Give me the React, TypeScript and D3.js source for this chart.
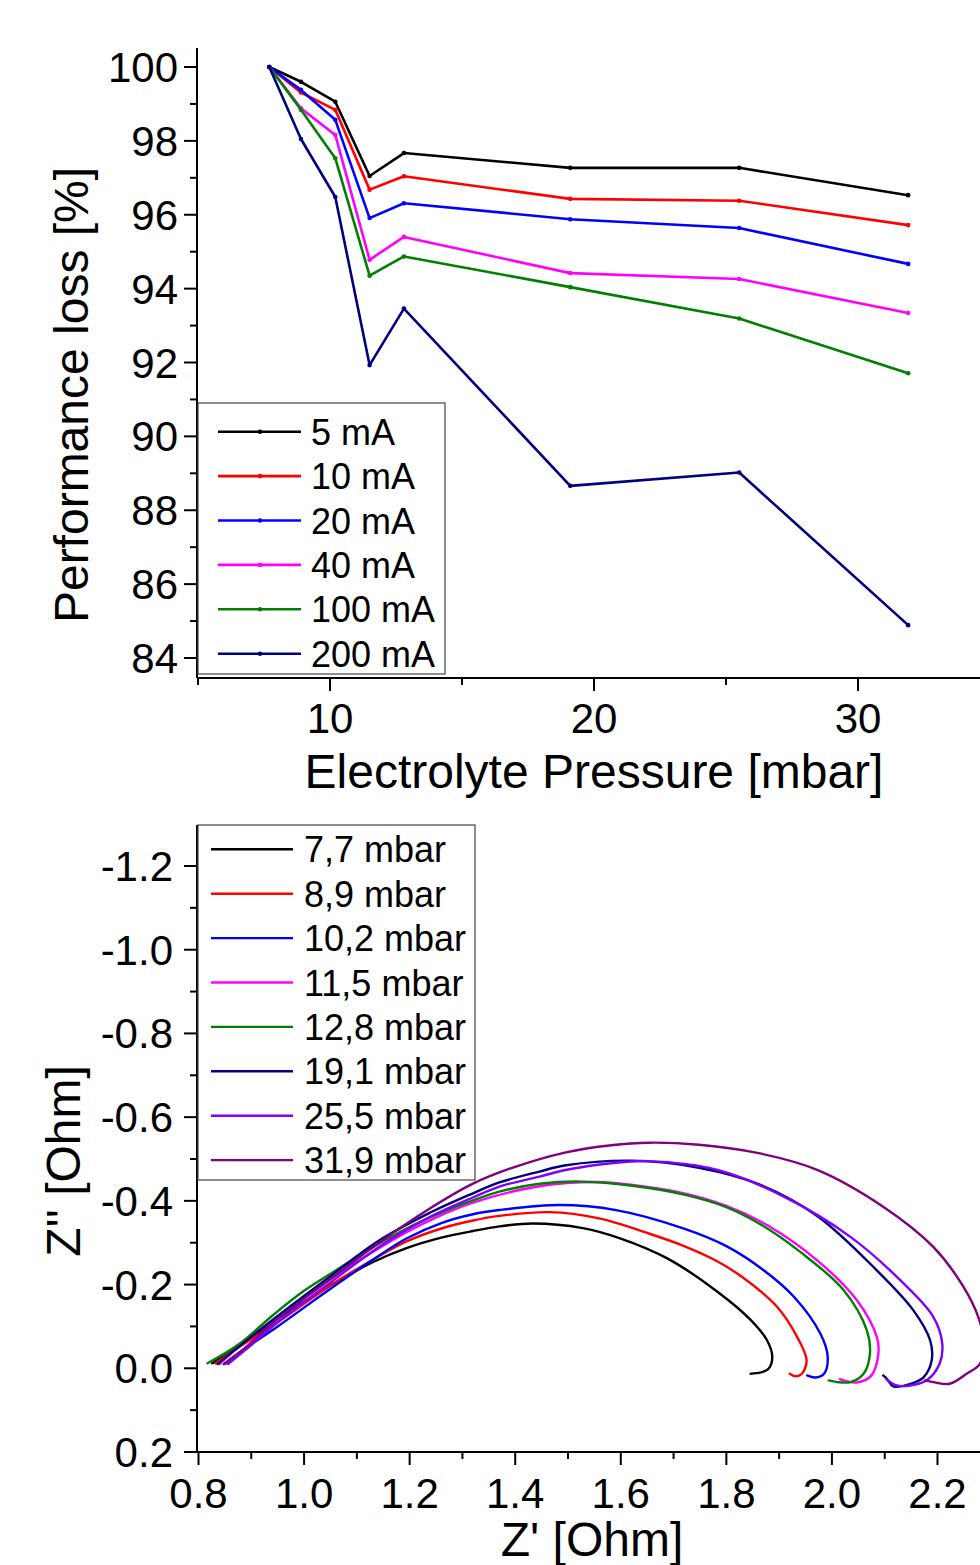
import React from "react";
import * as d3 from "d3";

// ---------- Top chart data ----------
const pressures = [7.7, 8.9, 10.2, 11.5, 12.8, 19.1, 25.5, 31.9];
const currentLabels = ["5 mA", "10 mA", "20 mA", "40 mA", "100 mA", "200 mA"];
const currentColors = ["#000000", "#ff0000", "#0000ff", "#ff00ff", "#008000", "#000080"];
const perf5 = [100, 99.6, 99.06, 97.05, 97.67, 97.27, 97.27, 96.53];
const perf10 = [100, 99.31, 98.84, 96.68, 97.04, 96.43, 96.38, 95.72];
const perf20 = [100, 99.38, 98.57, 95.91, 96.31, 95.88, 95.64, 94.67];
const perf40 = [100, 98.88, 98.16, 94.78, 95.4, 94.42, 94.26, 93.34];
const perf100 = [100, 98.84, 97.53, 94.35, 94.87, 94.04, 93.19, 91.71];
const perf200 = [100, 98.05, 96.48, 91.93, 93.46, 88.66, 89.02, 84.89];
const perfSeries = [perf5, perf10, perf20, perf40, perf100, perf200];
const xTicksTop = [10, 20, 30];
const xMinorTop = [5, 15, 25, 35];
const yTicksTop = [84, 86, 88, 90, 92, 94, 96, 98, 100];
const yMinorTop = [85, 87, 89, 91, 93, 95, 97, 99];

// ---------- Bottom chart data (Z', Z'') ----------
const nyqLabels = ["7,7 mbar", "8,9 mbar", "10,2 mbar", "11,5 mbar", "12,8 mbar", "19,1 mbar", "25,5 mbar", "31,9 mbar"];
const nyqColors = ["#000000", "#ff0000", "#0000ff", "#ff00ff", "#008000", "#000080", "#8000ff", "#800080"];
const nyq77: [number, number][] = [
  [0.826, -0.012], [0.86, -0.04], [0.898, -0.071], [0.942, -0.112], [1.005, -0.163], [1.07, -0.213],
  [1.131, -0.254], [1.194, -0.287], [1.26, -0.312], [1.32, -0.328], [1.37, -0.339], [1.433, -0.346],
  [1.528, -0.335], [1.6, -0.31], [1.689, -0.262], [1.783, -0.183], [1.845, -0.117], [1.877, -0.067],
  [1.887, -0.027], [1.88, 0.001], [1.865, 0.01], [1.846, 0.013],
];
const nyq89: [number, number][] = [
  [0.832, -0.012], [0.87, -0.045], [0.95, -0.11], [1.05, -0.198], [1.131, -0.26], [1.194, -0.303],
  [1.26, -0.334], [1.32, -0.353], [1.37, -0.364], [1.465, -0.373], [1.559, -0.358], [1.653, -0.322],
  [1.72, -0.292], [1.779, -0.258], [1.83, -0.218], [1.896, -0.147], [1.934, -0.075], [1.952, -0.019],
  [1.943, 0.013], [1.931, 0.019], [1.92, 0.013],
];
const nyq102: [number, number][] = [
  [0.848, -0.01], [0.88, -0.04], [0.95, -0.1], [1.05, -0.19], [1.131, -0.26], [1.194, -0.31],
  [1.26, -0.347], [1.32, -0.368], [1.37, -0.378], [1.484, -0.39], [1.591, -0.378], [1.717, -0.335],
  [1.8, -0.292], [1.87, -0.235], [1.928, -0.171], [1.978, -0.083], [1.992, -0.027], [1.985, 0.013],
  [1.969, 0.022], [1.953, 0.017],
];
const nyq115: [number, number][] = [
  [0.84, -0.01], [0.875, -0.05], [0.95, -0.123], [1.068, -0.228], [1.194, -0.325], [1.26, -0.366],
  [1.32, -0.396], [1.446, -0.435], [1.557, -0.445], [1.622, -0.438], [1.72, -0.418], [1.8, -0.388],
  [1.88, -0.34], [1.972, -0.258], [2.047, -0.163], [2.085, -0.075], [2.088, -0.036], [2.075, 0.017],
  [2.047, 0.034], [2.015, 0.026],
];
const nyq128: [number, number][] = [
  [0.817, -0.012], [0.877, -0.058], [0.942, -0.128], [1.0, -0.185], [1.068, -0.24], [1.129, -0.288],
  [1.194, -0.334], [1.26, -0.372], [1.32, -0.401], [1.37, -0.422], [1.446, -0.441], [1.528, -0.446],
  [1.622, -0.436], [1.72, -0.415], [1.8, -0.385], [1.87, -0.34], [1.94, -0.278], [2.022, -0.187],
  [2.066, -0.091], [2.072, -0.035], [2.06, 0.013], [2.035, 0.033], [2.01, 0.033], [1.994, 0.029],
];
const nyq191: [number, number][] = [
  [0.836, -0.01], [0.875, -0.05], [0.95, -0.125], [1.05, -0.22], [1.142, -0.305], [1.236, -0.37],
  [1.32, -0.418], [1.37, -0.444], [1.446, -0.47], [1.496, -0.485], [1.622, -0.496], [1.748, -0.479],
  [1.861, -0.44], [1.972, -0.364], [2.085, -0.234], [2.154, -0.139], [2.186, -0.067], [2.189, -0.019],
  [2.174, 0.021], [2.149, 0.037], [2.116, 0.043], [2.104, 0.025], [2.097, 0.017],
];
const nyq255: [number, number][] = [
  [0.856, -0.01], [0.89, -0.045], [0.95, -0.11], [1.05, -0.205], [1.142, -0.29], [1.236, -0.36],
  [1.32, -0.408], [1.37, -0.434], [1.446, -0.458], [1.5, -0.475], [1.582, -0.49], [1.651, -0.495],
  [1.783, -0.474], [1.909, -0.41], [2.035, -0.314], [2.129, -0.211], [2.192, -0.123], [2.209, -0.059],
  [2.204, -0.011], [2.179, 0.029], [2.148, 0.041], [2.123, 0.041], [2.104, 0.027],
];
const nyq319: [number, number][] = [
  [0.85, -0.01], [0.885, -0.045], [0.95, -0.118], [1.05, -0.213], [1.142, -0.3], [1.236, -0.38],
  [1.318, -0.44], [1.383, -0.474], [1.496, -0.516], [1.582, -0.533], [1.653, -0.539], [1.748, -0.534],
  [1.861, -0.514], [1.972, -0.474], [2.097, -0.386], [2.192, -0.29], [2.249, -0.195], [2.278, -0.12],
  [2.288, -0.06], [2.28, -0.01], [2.255, 0.013], [2.223, 0.037], [2.192, 0.033], [2.176, 0.029],
];
const nyqSeries = [nyq77, nyq89, nyq102, nyq115, nyq128, nyq191, nyq255, nyq319];
const xTicksBot = [0.8, 1.0, 1.2, 1.4, 1.6, 1.8, 2.0, 2.2];
const xMinorBot = [0.9, 1.1, 1.3, 1.5, 1.7, 1.9, 2.1, 2.3];
const yTicksBot = [-1.2, -1.0, -0.8, -0.6, -0.4, -0.2, 0.0, 0.2];
const yMinorBot = [-1.1, -0.9, -0.7, -0.5, -0.3, -0.1, 0.1];

const FONT = "'Liberation Sans', Arial, Helvetica, sans-serif";
const W = 980;
const H = 1565;

const fmt1 = (v: number) => d3.format(".1f")(v).replace("\u2212", "-");

export default function App() {
  const x1 = d3.scaleLinear().domain([5, 35]).range([198, 990]);
  const y1 = d3.scaleLinear().domain([84, 100]).range([658, 67]);
  const axX1 = 197;
  const axY1 = 678;
  const axTop1 = 48;

  const x2 = d3.scaleLinear().domain([0.8, 2.2]).range([198.5, 937.5]);
  const y2 = d3.scaleLinear().domain([-1.2, 0.2]).range([866, 1452]);
  const axX2 = 197;
  const axY2 = 1452;
  const axTop2 = 825;

  const lineTop = d3
    .line<number>()
    .x((_, i) => x1(pressures[i]))
    .y((d) => y1(d));

  const lineBot = d3
    .line<[number, number]>()
    .x((d) => x2(d[0]))
    .y((d) => y2(d[1]))
    .curve(d3.curveCatmullRom.alpha(0.5));

  const tickLen = 13;
  const minorLen = 7;
  const tickFont = 42;
  const legFont = 36;
  const titleFont = 48;

  return (
    <svg
      width={W}
      height={H}
      viewBox={`0 0 ${W} ${H}`}
      style={{ position: "absolute", left: 0, top: 0, background: "#fff" }}
      fontFamily={FONT}
    >
      <rect x={0} y={0} width={W} height={H} fill="#fff" />

      {/* ================= TOP CHART ================= */}
      <g>
        {perfSeries.map((s, k) => (
          <g key={k}>
            <path d={lineTop(s) || ""} fill="none" stroke={currentColors[k]} strokeWidth={2.6} strokeLinejoin="round" />
            {s.map((v, i) => (
              <circle key={i} cx={x1(pressures[i])} cy={y1(v)} r={2.3} fill={currentColors[k]} />
            ))}
          </g>
        ))}

        <line x1={axX1} y1={axTop1} x2={axX1} y2={axY1} stroke="#000" strokeWidth={2} />
        <line x1={axX1} y1={axY1} x2={W} y2={axY1} stroke="#000" strokeWidth={2} />
        {yTicksTop.map((t) => (
          <g key={t}>
            <line x1={axX1 - tickLen} x2={axX1} y1={y1(t)} y2={y1(t)} stroke="#000" strokeWidth={2} />
            <text x={178} y={y1(t) + 15} fontSize={tickFont} textAnchor="end">
              {t}
            </text>
          </g>
        ))}
        {yMinorTop.map((t) => (
          <line key={t} x1={axX1 - minorLen} x2={axX1} y1={y1(t)} y2={y1(t)} stroke="#000" strokeWidth={2} />
        ))}
        {xTicksTop.map((t) => (
          <g key={t}>
            <line x1={x1(t)} x2={x1(t)} y1={axY1} y2={axY1 + tickLen} stroke="#000" strokeWidth={2} />
            <text x={x1(t)} y={733} fontSize={tickFont} textAnchor="middle">
              {t}
            </text>
          </g>
        ))}
        {xMinorTop.map((t) => (
          <line key={t} x1={x1(t)} x2={x1(t)} y1={axY1} y2={axY1 + minorLen} stroke="#000" strokeWidth={2} />
        ))}

        <text x={594} y={788} fontSize={titleFont} textAnchor="middle">
          Electrolyte Pressure [mbar]
        </text>
        <text transform="translate(88,395) rotate(-90)" fontSize={titleFont} textAnchor="middle">
          Performance loss [%]
        </text>

        <rect x={198} y={403} width={247} height={271} fill="#fff" stroke="#444" strokeWidth={1.2} />
        {currentLabels.map((lab, k) => {
          const cy = 431.7 + k * 44.4;
          return (
            <g key={lab}>
              <line x1={218} x2={301} y1={cy} y2={cy} stroke={currentColors[k]} strokeWidth={2.6} />
              <circle cx={260} cy={cy} r={2.3} fill={currentColors[k]} />
              <text x={311} y={cy + 13} fontSize={legFont}>
                {lab}
              </text>
            </g>
          );
        })}
      </g>

      {/* ================= BOTTOM CHART ================= */}
      <g>
        <defs>
          <clipPath id="clipBot">
            <rect x={axX2} y={axTop2 - 5} width={W - axX2} height={axY2 - axTop2 + 5} />
          </clipPath>
        </defs>
        <g clipPath="url(#clipBot)">
          {nyqSeries.map((s, k) => (
            <path
              key={k}
              d={lineBot(s) || ""}
              fill="none"
              stroke={nyqColors[k]}
              strokeWidth={2.4}
              strokeLinejoin="round"
              strokeLinecap="round"
            />
          ))}
        </g>

        <line x1={axX2} y1={axTop2} x2={axX2} y2={axY2} stroke="#000" strokeWidth={2} />
        <line x1={axX2} y1={axY2} x2={W} y2={axY2} stroke="#000" strokeWidth={2} />
        {yTicksBot.map((t) => (
          <g key={t}>
            <line x1={axX2 - tickLen} x2={axX2} y1={y2(t)} y2={y2(t)} stroke="#000" strokeWidth={2} />
            <text x={173} y={y2(t) + 15} fontSize={tickFont} textAnchor="end">
              {fmt1(t)}
            </text>
          </g>
        ))}
        {yMinorBot.map((t) => (
          <line key={t} x1={axX2 - minorLen} x2={axX2} y1={y2(t)} y2={y2(t)} stroke="#000" strokeWidth={2} />
        ))}
        {xTicksBot.map((t) => (
          <g key={t}>
            <line x1={x2(t)} x2={x2(t)} y1={axY2} y2={axY2 + tickLen} stroke="#000" strokeWidth={2} />
            <text x={x2(t)} y={1508} fontSize={tickFont} textAnchor="middle">
              {fmt1(t)}
            </text>
          </g>
        ))}
        {xMinorBot.map((t) => (
          <line key={t} x1={x2(t)} x2={x2(t)} y1={axY2} y2={axY2 + minorLen} stroke="#000" strokeWidth={2} />
        ))}

        <text x={592} y={1556} fontSize={titleFont} textAnchor="middle">
          Z' [Ohm]
        </text>
        <text transform="translate(80,1161) rotate(-90)" fontSize={titleFont} textAnchor="middle">
          Z'' [Ohm]
        </text>

        <rect x={198} y={825} width={277} height={355} fill="#fff" stroke="#444" strokeWidth={1.2} />
        {nyqLabels.map((lab, k) => {
          const cy = 849.3 + k * 44.4;
          return (
            <g key={lab}>
              <line x1={211} x2={293} y1={cy} y2={cy} stroke={nyqColors[k]} strokeWidth={2.4} />
              <text x={304} y={cy + 13} fontSize={legFont}>
                {lab}
              </text>
            </g>
          );
        })}
      </g>
    </svg>
  );
}
